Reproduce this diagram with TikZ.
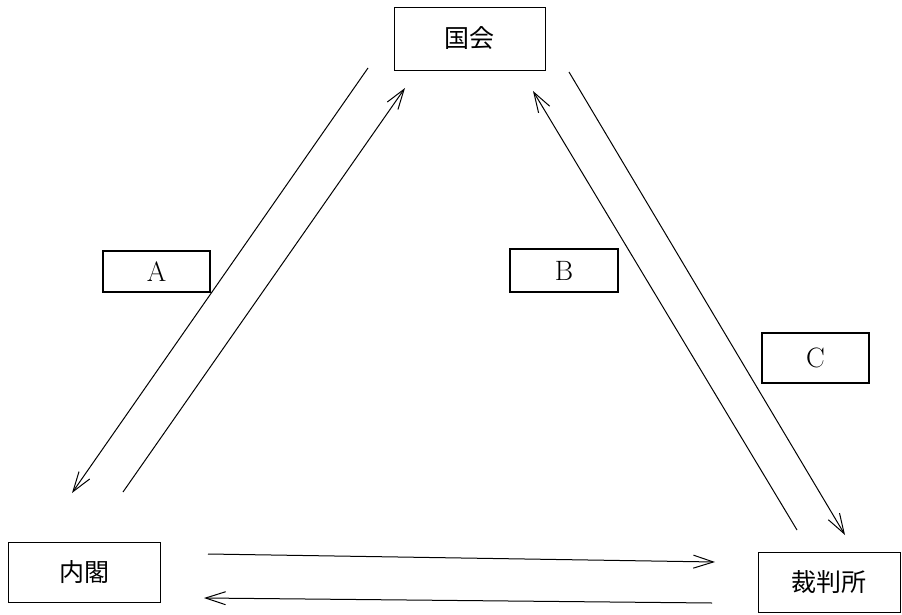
\documentclass[tikz,border=0pt]{standalone}
\usepackage{fontspec}
\newfontfamily\cjk{Noto Sans CJK JP}
\usetikzlibrary{arrows.meta}
\begin{document}
\begin{tikzpicture}[x=1pt,y=-1pt,
  org/.style={draw, line width=0.8pt, inner sep=0pt, font=\cjk\fontsize{25}{25}\selectfont},
  lbl/.style={draw, line width=1.8pt, inner sep=0pt, font=\fontsize{28}{28}\selectfont},
  arr/.style={line width=1pt, -{Straight Barb[length=20pt,width=13pt,line width=1pt]}}]
\useasboundingbox[fill=white] (0,0) rectangle (902,615);
\node[org, minimum width=151pt, minimum height=63pt] (kokkai) at (469.5,38.5) {国会};
\node[org, minimum width=152pt, minimum height=60pt] (naikaku) at (84,572) {内閣};
\node[org, minimum width=142pt, minimum height=60pt] (saiban) at (829,582) {裁判所};
\node[lbl, minimum width=107pt, minimum height=41pt] (A) at (156.5,271.5) {A};
\node[lbl, minimum width=108pt, minimum height=43pt] (B) at (564,270.5) {B};
\node[lbl, minimum width=107pt, minimum height=50pt] (C) at (815.5,358) {C};
\coordinate (a1s) at (368,68);
\coordinate (a1e) at (72,493);
\coordinate (a2s) at (123,492);
\coordinate (a2e) at (405,88);
\coordinate (b1s) at (797,530);
\coordinate (b1e) at (533,91);
\coordinate (c1s) at (569,72);
\coordinate (c1e) at (845,535);
\coordinate (h1s) at (208,554);
\coordinate (h1e) at (715,562);
\coordinate (h2s) at (712,603);
\coordinate (h2e) at (204,598);
\draw[arr] (a1s) -- (a1e);
\draw[arr] (a2s) -- (a2e);
\draw[arr] (b1s) -- (b1e);
\draw[arr] (c1s) -- (c1e);
\draw[arr] (h1s) -- (h1e);
\draw[arr] (h2s) -- (h2e);
\end{tikzpicture}
\end{document}
